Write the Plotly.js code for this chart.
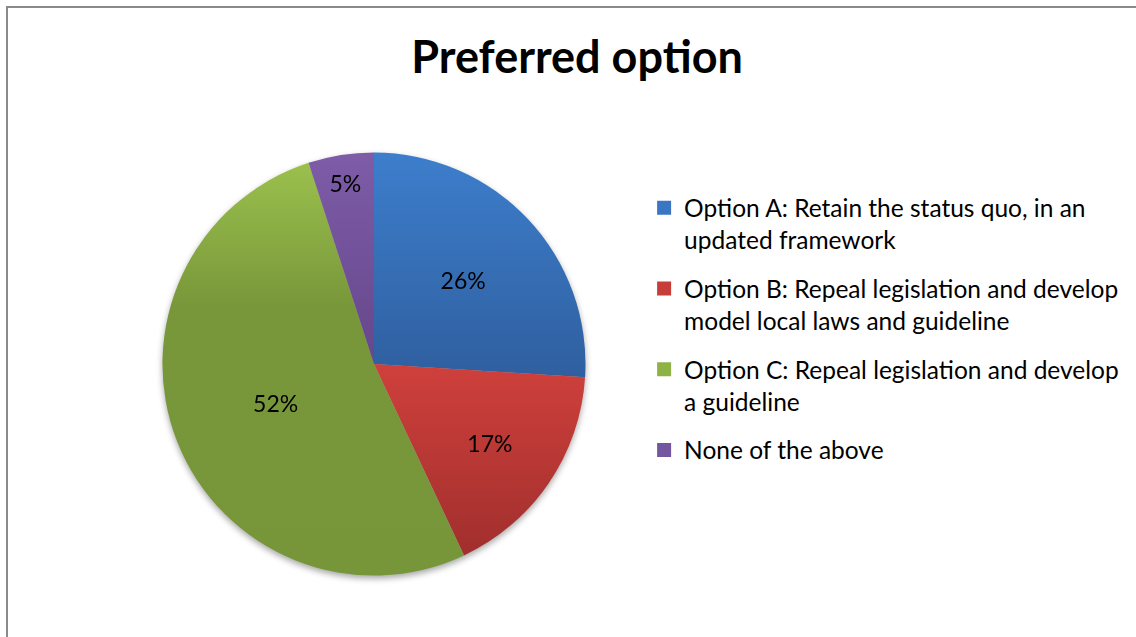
<!DOCTYPE html>
<html>
<head>
<meta charset="utf-8">
<script src="https://cdn.plot.ly/plotly-3.0.1.min.js"></script>
<style>
  html, body { margin: 0; padding: 0; background: #fff; }
  #wrap { position: relative; width: 1136px; height: 637px; overflow: hidden; }
  #frame { position: absolute; left: 6px; top: 6px; width: 1200px; height: 700px;
           border-left: 2px solid #8a8a8a; border-top: 2px solid #8a8a8a; pointer-events: none; }
  #chart { position: absolute; left: 0; top: 0; width: 1136px; height: 637px; }
  .pielayer { filter: drop-shadow(0px 3px 3px rgba(0,0,0,0.35)); }
  .pielayer g.slice:nth-of-type(1) path.surface { fill: url(#gA) !important; }
  .pielayer g.slice:nth-of-type(2) path.surface { fill: url(#gB) !important; }
  .pielayer g.slice:nth-of-type(3) path.surface { fill: url(#gC) !important; }
  .pielayer g.slice:nth-of-type(4) path.surface { fill: url(#gD) !important; }
</style>
</head>
<body>
<svg width="0" height="0" style="position:absolute">
  <defs>
    <linearGradient id="gA" x1="0" y1="0" x2="0" y2="1">
      <stop offset="0" stop-color="#3d7ecc"/><stop offset="1" stop-color="#2f5f9f"/>
    </linearGradient>
    <linearGradient id="gB" x1="0" y1="0" x2="0" y2="1">
      <stop offset="0" stop-color="#cf403c"/><stop offset="1" stop-color="#a12f2d"/>
    </linearGradient>
    <linearGradient id="gC" x1="0" y1="0" x2="0" y2="1">
      <stop offset="0" stop-color="#9bc04d"/><stop offset="0.35" stop-color="#78973a"/><stop offset="1" stop-color="#779639"/>
    </linearGradient>
    <linearGradient id="gD" x1="0" y1="0" x2="0" y2="1">
      <stop offset="0" stop-color="#7e5ca8"/><stop offset="1" stop-color="#65478a"/>
    </linearGradient>
  </defs>
</svg>
<div id="wrap">
  <div id="chart"></div>
  <div id="frame"></div>
</div>
<script>
const categories = [
  "Option A: Retain the status quo, in an<br>updated framework",
  "Option B: Repeal legislation and develop<br>model local laws and guideline",
  "Option C: Repeal legislation and develop<br>a guideline",
  "None of the above"
];
const shares = [26, 17, 52, 5];
const sliceColors = ["#3570b8", "#bf3a37", "#7a9a3b", "#6f5196"];
const legendColors = ["#3a76c4", "#c63d3a", "#8fb247", "#7455a0"];

const font = "Lato, 'Open Sans', sans-serif";

const pie = {
  type: "pie",
  labels: categories,
  values: shares,
  sort: false,
  direction: "clockwise",
  rotation: 0,
  marker: { colors: sliceColors, line: { width: 0 } },
  textinfo: "percent",
  texttemplate: "%{percent:.0%}",
  textposition: "inside",
  insidetextorientation: "horizontal",
  textfont: { family: font, size: 23, color: "#000" },
  hoverinfo: "label+percent",
  showlegend: false,
  domain: { x: [0.1430, 0.5154], y: [0.0965, 0.7606] }
};

// legend entries, one group per category so the gap between entries can be set
const legendTraces = categories.map((name, i) => ({
  type: "scatter",
  mode: "markers",
  x: [null], y: [null],
  name: name,
  legendgroup: "g" + i,
  showlegend: true,
  marker: { symbol: "square", size: 14, color: legendColors[i] },
  hoverinfo: "skip"
}));

const layout = {
  width: 1136,
  height: 637,
  margin: { l: 0, r: 0, t: 0, b: 0 },
  paper_bgcolor: "#ffffff",
  plot_bgcolor: "rgba(0,0,0,0)",
  xaxis: { visible: false, domain: [0.95, 1] },
  yaxis: { visible: false, domain: [0.95, 1] },
  showlegend: true,
  title: {
    text: "<b>Preferred option</b>",
    font: { family: font, size: 45, color: "#000" },
    x: 0.508, xanchor: "center",
    y: 0.91, yanchor: "middle"
  },
  legend: {
    x: 0.567, xanchor: "left",
    y: 0.709, yanchor: "top",
    font: { family: font, size: 24.5, color: "#000" },
    itemwidth: 30,
    valign: "top",
    tracegroupgap: 14,
    bgcolor: "rgba(0,0,0,0)"
  }
};

Plotly.newPlot("chart", [pie].concat(legendTraces), layout, { displayModeBar: false, staticPlot: true });
</script>
</body>
</html>
